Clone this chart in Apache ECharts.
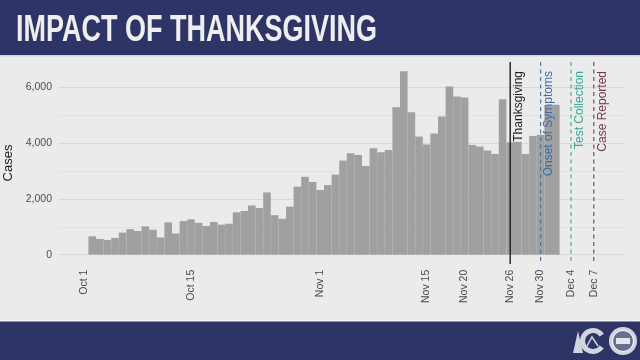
<!DOCTYPE html>
<html><head><meta charset="utf-8">
<script src="https://cdn.jsdelivr.net/npm/echarts@6/dist/echarts.min.js"></script>
<style>html,body{margin:0;padding:0;background:#ebebeb}#c{width:640px;height:360px}</style>
</head><body><div id="c"></div>
<script>
// ---------------- data ----------------
const titleText = 'IMPACT OF THANKSGIVING';
const yAxisName = 'Cases';
const axisOrigin = '2020-10-01';
const firstBarDate = '2020-10-02';
const cases = [
  660, 565, 530, 600, 790, 915, 850, 1015, 895, 615,
  1160, 760, 1205, 1267, 1140, 1028, 1175, 1075, 1110, 1518,
  1565, 1765, 1673, 2230, 1415, 1285, 1721, 2438, 2790, 2605,
  2318, 2497, 2868, 3370, 3633, 3573, 3179, 3812, 3669, 3752,
  5282, 6573, 5103, 4230, 3944, 4340, 4947, 6023, 5664, 5628,
  3932, 3872, 3728, 3609, 5569, 4027, 4040, 3609, 4254, 4300,
  5360, 5370
];
const tickDates = ['2020-10-01','2020-10-15','2020-11-01','2020-11-15','2020-11-20','2020-11-26','2020-11-30','2020-12-04','2020-12-07'];
const tickLabels = ['Oct 1','Oct 15','Nov 1','Nov 15','Nov 20','Nov 26','Nov 30','Dec 4','Dec 7'];
const eventNames = ['Thanksgiving','Onset of Symptoms','Test Collection','Case Reported'];
const eventDates = ['2020-11-26','2020-11-30','2020-12-04','2020-12-07'];

// ---------------- styles ----------------
const eventStyles = [
  {color:'#1e1e1e', dash:null, width:1.4},
  {color:'#3d6ea6', dash:[4,3.5], width:1.1},
  {color:'#3aa893', dash:[4,3.5], width:1.1},
  {color:'#74394b', dash:[4,3.5], width:1.1}
];
const NAVY = '#2e3566';
const BAR = '#a0a0a0';
const LOGO = '#d3d5de';
const FONT = 'Liberation Sans, Arial, sans-serif';

// ---------------- derived ----------------
const dayOf = s => Math.round((Date.parse(s) - Date.parse(axisOrigin)) / 864e5);
const first = dayOf(firstBarDate);
const barData = cases.map((v, i) => [first + i, v]);
const tickDays = tickDates.map(dayOf);
const eventData = eventDates.map((d, i) => [dayOf(d), i]);
const yMaxData = Math.max(...cases);
const expand = 0.05;
const yTop = yMaxData * (1 + expand);
const yLow = -yMaxData * expand;

const chart = echarts.init(document.getElementById('c'), null, {renderer:'canvas'});
chart.setOption({
  backgroundColor: '#ebebeb',
  animation: false,
  grid: {left: 58, right: 15.8, top: 62, bottom: 105.3, containLabel: false},
  xAxis: {
    type: 'value', min: -3.5, max: 71, interval: 0.5,
    axisLine: {show:false}, axisTick: {show:false}, splitLine: {show:false},
    axisLabel: {
      rotate: 90, margin: 15, color: '#4d4d4d', fontSize: 10.5, fontFamily: FONT,
      showMinLabel: false, showMaxLabel: false,
      formatter: v => { const k = tickDays.indexOf(Math.round(v*2)/2); return k >= 0 ? tickLabels[k] : ''; }
    }
  },
  yAxis: {
    type: 'value', min: 0, max: yTop, interval: 1000,
    axisLine: {show:false}, axisTick: {show:false},
    splitLine: {show:true, showMaxLine:false, lineStyle: {color: ['#d8d8d8', '#e1e1e1'], width: 1}},
    axisLabel: {
      color: '#4d4d4d', fontSize: 10.5, fontFamily: FONT, margin: 6,
      formatter: v => (v % 2000 === 0 && v <= yMaxData) ? v.toLocaleString('en-US') : ''
    }
  },
  series: [
    {
      type: 'custom', name: 'cases', data: barData, encode: {x: 0, y: 1}, z: 2,
      renderItem: (params, api) => {
        const d = api.value(0), v = api.value(1);
        const p0 = api.coord([d - 0.5, v]);
        const p1 = api.coord([d + 0.5, 0]);
        return {type: 'rect', shape: {x: p0[0], y: p0[1], width: p1[0] - p0[0], height: p1[1] - p0[1]},
                style: {fill: BAR}};
      }
    },
    {
      type: 'custom', name: 'events', data: eventData, encode: {x: 0, y: 1}, z: 3, clip: false,
      renderItem: (params, api) => {
        const d = api.value(0), i = api.value(1);
        const st = eventStyles[i];
        const a = api.coord([d, yTop]);
        const b = api.coord([d, yLow]);
        return {type: 'group', children: [
          {type: 'line', shape: {x1: a[0], y1: a[1], x2: b[0], y2: b[1]},
           style: {stroke: st.color, lineWidth: st.width, lineDash: st.dash}},
          {type: 'text', x: a[0] + 8.5, y: a[1] + 9, rotation: Math.PI / 2,
           style: {text: eventNames[i], fill: st.color, fontSize: 12, fontFamily: FONT,
                   align: 'right', verticalAlign: 'middle'}}
        ]};
      }
    }
  ],
  graphic: [
    {type: 'rect', shape: {x: 0, y: 0, width: 640, height: 55}, style: {fill: NAVY}, z: 10},
    {type: 'rect', shape: {x: 0, y: 55, width: 640, height: 1.5}, style: {fill: '#d6d6d9'}, z: 10},
    {type: 'text', x: 16, y: 31.5, scaleX: 0.75, z: 11,
     style: {text: titleText, fill: '#eeeeee', fontSize: 36, fontWeight: 'bold', fontFamily: FONT, align: 'left', verticalAlign: 'middle'}},
    {type: 'rect', shape: {x: 0, y: 320, width: 640, height: 1.2}, style: {fill: '#f6f6f6'}, z: 10},
    {type: 'rect', shape: {x: 0, y: 321.5, width: 640, height: 38.5}, style: {fill: NAVY}, z: 10},
    {type: 'text', x: 8, y: 163, rotation: Math.PI / 2, z: 11,
     style: {text: yAxisName, fill: '#1a1a1a', fontSize: 13, fontFamily: FONT, align: 'center', verticalAlign: 'middle'}},
    // logos (approximate)
    {type: 'polygon', z: 12, shape: {points: [[573,353],[578,331],[583,353]]}, style: {fill: LOGO}},
    {type: 'arc', z: 12, shape: {cx: 593, cy: 341, r: 10.5, startAngle: 0.6, endAngle: 5.7}, style: {stroke: LOGO, lineWidth: 5, fill: null}},
    {type: 'polyline', z: 12, shape: {points: [[587,346],[592,337],[598,346]]}, style: {stroke: LOGO, lineWidth: 1.5, fill: null}},
    {type: 'circle', z: 12, shape: {cx: 623, cy: 341, r: 14}, style: {fill: LOGO}},
    {type: 'circle', z: 13, shape: {cx: 623, cy: 341, r: 10.5}, style: {fill: '#6a6f92', stroke: '#ffffff', lineWidth: 1}},
    {type: 'rect', z: 14, shape: {x: 616, y: 338, width: 14, height: 6}, style: {fill: '#e5e6ec'}}
  ]
});
</script>
</body></html>
